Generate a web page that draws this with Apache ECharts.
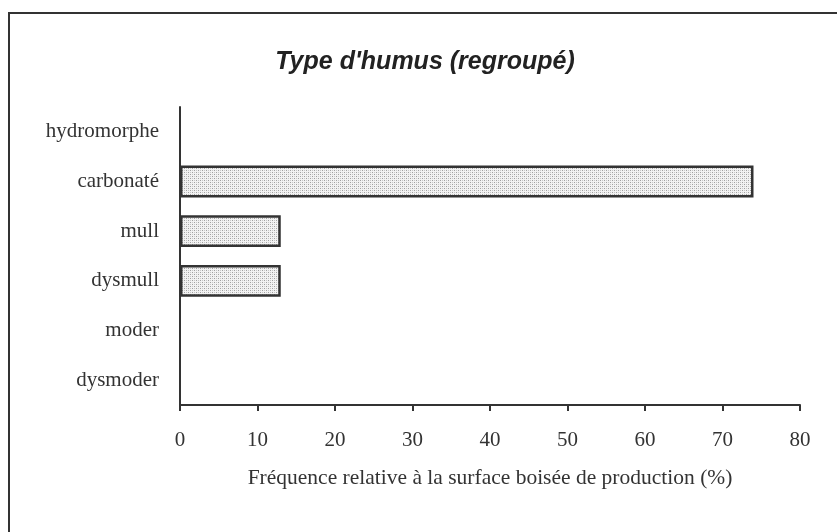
<!DOCTYPE html>
<html>
<head>
<meta charset="utf-8">
<script src="https://cdn.jsdelivr.net/npm/echarts@6/dist/echarts.min.js"></script>
<style>
  html, body { margin: 0; padding: 0; background: #fff; }
  #chart { width: 837px; height: 532px; }
</style>
</head>
<body>
<div id="chart"></div>
<script>
// categories from top to bottom
var categories = ['hydromorphe', 'carbonaté', 'mull', 'dysmull', 'moder', 'dysmoder'];
var values = [0, 74, 13, 13, 0, 0];
var xTicks = [0, 10, 20, 30, 40, 50, 60, 70, 80];

// dotted fill like the original
var pat = document.createElement('canvas');
pat.width = 4;
pat.height = 4;
var ctx = pat.getContext('2d');
ctx.fillStyle = '#f2f2f2';
ctx.fillRect(0, 0, 4, 4);
ctx.fillStyle = '#a0a0a0';
ctx.fillRect(0, 0, 1, 1);
ctx.fillRect(2, 2, 1, 1);
ctx.fillStyle = '#c8c8c8';
ctx.fillRect(2, 0, 1, 1);
ctx.fillRect(0, 2, 1, 1);

var chart = echarts.init(document.getElementById('chart'));
var option = {
    backgroundColor: '#fff',
    animation: false,
    title: {
        text: "Type d'humus (regroupé)",
        left: 420,
        top: 45,
        textAlign: 'center',
        textStyle: {
            fontFamily: 'Liberation Sans',
            fontStyle: 'italic',
            fontWeight: 'bold',
            fontSize: 25,
            color: '#222'
        }
    },
    graphic: [{
        type: 'rect',
        shape: { x: 9, y: 13, width: 900, height: 600 },
        style: { fill: 'none', stroke: '#333', lineWidth: 2 },
        silent: true
    }],
    grid: { left: 180, right: 37, top: 107, bottom: 127 },
    xAxis: {
        type: 'value',
        min: xTicks[0],
        max: xTicks[xTicks.length - 1],
        interval: 10,
        name: 'Fréquence relative à la surface boisée de production (%)',
        nameLocation: 'middle',
        nameGap: 62,
        nameTextStyle: { fontFamily: 'Liberation Serif', fontSize: 21.5, color: '#333' },
        axisLine: { show: true, lineStyle: { color: '#333', width: 2 } },
        axisTick: { show: true, length: 6, lineStyle: { color: '#333', width: 2 } },
        axisLabel: { fontFamily: 'Liberation Serif', fontSize: 21, color: '#333', margin: 25 },
        splitLine: { show: false }
    },
    yAxis: {
        type: 'category',
        data: categories,
        inverse: true,
        axisLine: { show: true, lineStyle: { color: '#333', width: 2 } },
        axisTick: { show: false },
        axisLabel: { fontFamily: 'Liberation Serif', fontSize: 21, color: '#333', margin: 21 }
    },
    series: [{
        type: 'bar',
        // empty categories draw nothing
        data: values.map(function (v) { return v === 0 ? '-' : v; }),
        barCategoryGap: '36%',
        itemStyle: {
            color: { image: pat, repeat: 'repeat' },
            borderColor: '#333',
            borderWidth: 2.5
        }
    }]
};
chart.setOption(option);
</script>
</body>
</html>
